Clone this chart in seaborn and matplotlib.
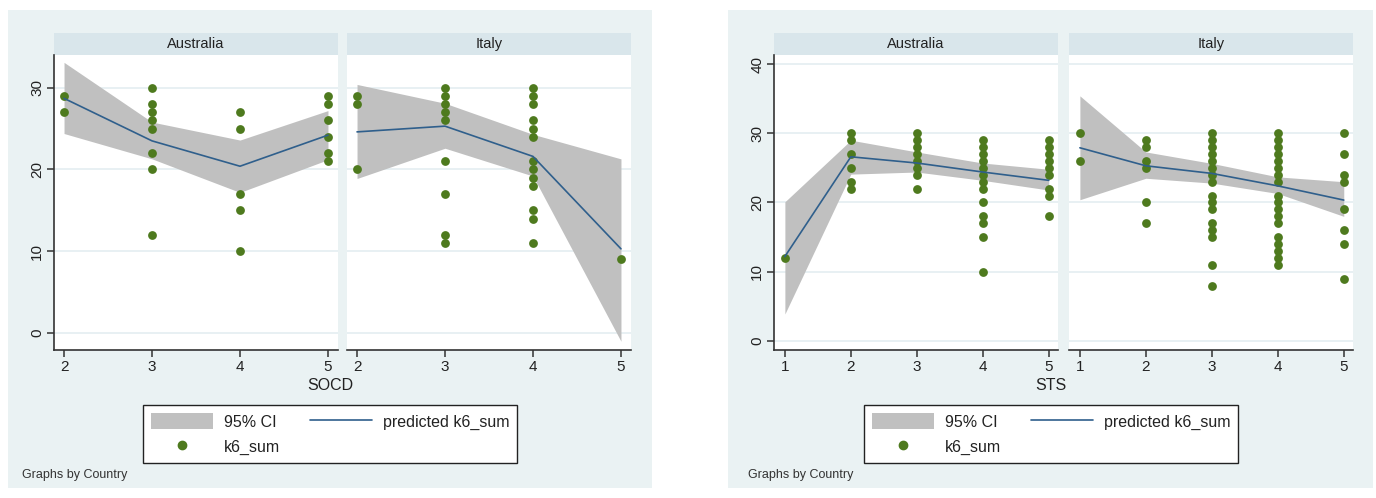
import matplotlib
matplotlib.use('Agg')
import matplotlib.pyplot as plt
import numpy as np
import pandas as pd
import seaborn as sns
from matplotlib.lines import Line2D
from matplotlib.patches import Patch, Rectangle

# SOCD (left graph)
socd_levels = [2, 3, 4, 5]
socd_aus_k6 = [[29, 27], [30, 28, 27, 26, 25, 22, 20, 12], [27, 25, 17, 15, 10],
               [29, 28, 26, 24, 22, 21]]
socd_aus_pred = [28.7, 23.5, 20.4, 24.2]
socd_aus_lo = [24.4, 21.3, 17.2, 21.2]
socd_aus_hi = [33.1, 25.8, 23.6, 27.2]
socd_ita_k6 = [[29, 28, 20], [30, 29, 28, 27, 26, 21, 17, 12, 11],
               [30, 29, 28, 26, 25, 24, 21, 20, 19, 18, 15, 14, 11], [9]]
socd_ita_pred = [24.6, 25.3, 21.6, 10.3]
socd_ita_lo = [18.9, 22.6, 19.2, -1.0]
socd_ita_hi = [30.4, 28.1, 24.3, 21.3]

# STS (right graph)
sts_levels = [1, 2, 3, 4, 5]
sts_aus_k6 = [[12], [30, 29, 27, 25, 23, 22], [30, 29, 28, 27, 26, 25, 24, 22],
              [29, 28, 27, 26, 25, 24, 23, 22, 20, 18, 17, 15, 10],
              [29, 28, 27, 26, 25, 24, 22, 21, 18]]
sts_aus_pred = [12.2, 26.6, 25.7, 24.4, 23.2]
sts_aus_lo = [3.9, 24.1, 24.4, 23.2, 21.8]
sts_aus_hi = [20.1, 29.0, 27.3, 25.7, 24.8]
sts_ita_k6 = [[30, 26], [29, 28, 26, 25, 20, 17],
              [30, 29, 28, 27, 26, 25, 24, 23, 21, 20, 19, 17, 16, 15, 11, 8],
              [30, 29, 28, 27, 26, 25, 24, 23, 21, 20, 19, 18, 17, 15, 14, 13, 12, 11],
              [30, 27, 24, 23, 19, 16, 14, 9]]
sts_ita_pred = [27.9, 25.3, 24.2, 22.4, 20.35]
sts_ita_lo = [20.4, 23.5, 22.8, 21.3, 18.0]
sts_ita_hi = [35.4, 27.3, 25.65, 23.7, 23.0]

countries = ['Australia', 'Italy']
legend_labels = ['95% CI', 'predicted k6_sum', 'k6_sum']

# Colours (Stata s2color look)
BG = '#EAF2F3'
STRIP = '#D9E6EB'
GRID = '#E4EEF1'
CI_GRAY = '#C0C0C0'
LINE_BLUE = '#2F5F8C'
DOT_GREEN = '#4E7A1E'
INK = '#222222'

W, H = 1376, 498

sns.set_theme(style='white')
plt.rcParams['font.family'] = ['Liberation Sans', 'DejaVu Sans']

fig = plt.figure(figsize=(W / 100, H / 100), dpi=100, facecolor='white')


def px_axes(x0, x1, y0, y1):
    # axes from pixel box (top-left origin)
    return fig.add_axes([x0 / W, 1 - y1 / H, (x1 - x0) / W, (y1 - y0) / H])


def draw_panel(ax, levels, k6, pred, lo, hi, title, xlim, ylim, yticks, show_y):
    pts = pd.DataFrame([(x, v) for x, vals in zip(levels, k6) for v in vals],
                       columns=['x', 'k6_sum'])
    fit = pd.DataFrame({'x': levels, 'pred': pred, 'lo': lo, 'hi': hi})

    ax.set_facecolor('white')
    ax.fill_between(fit['x'], fit['lo'], fit['hi'], color=CI_GRAY, lw=0, zorder=2)
    sns.scatterplot(data=pts, x='x', y='k6_sum', ax=ax, color=DOT_GREEN, s=40,
                    linewidth=0, zorder=3, legend=False)
    sns.lineplot(data=fit, x='x', y='pred', ax=ax, color=LINE_BLUE, lw=1.2,
                 zorder=4, legend=False)

    ax.set_xlim(*xlim)
    ax.set_ylim(*ylim)
    ax.set_xticks(levels)
    ax.set_yticks(yticks)
    ax.yaxis.grid(True, color=GRID, lw=1.2)
    ax.set_axisbelow(True)
    ax.set_xlabel('')
    ax.set_ylabel('')

    for s in ['top', 'right']:
        ax.spines[s].set_visible(False)
    ax.spines['bottom'].set_color('#333333')
    ax.spines['bottom'].set_linewidth(1.2)
    ax.tick_params(axis='x', bottom=True, length=5, width=1.1, color='#333333',
                   labelsize=11, pad=2, labelcolor=INK)
    if show_y:
        ax.spines['left'].set_color('#333333')
        ax.spines['left'].set_linewidth(1.2)
        ax.tick_params(axis='y', left=True, length=5, width=1.1, color='#333333',
                       labelsize=11, pad=2, labelrotation=90, labelcolor=INK)
        for t in ax.get_yticklabels():
            t.set_va('center')
    else:
        ax.spines['left'].set_visible(False)
        ax.tick_params(axis='y', left=False, labelleft=False)

    # facet strip
    strip_h = 22 / (ax.get_position().height * H)
    ax.add_patch(Rectangle((0, 1), 1, strip_h, transform=ax.transAxes,
                           facecolor=STRIP, edgecolor='none', clip_on=False))
    ax.text(0.5, 1 + strip_h / 2, title, transform=ax.transAxes, ha='center',
            va='center', fontsize=10.5, color=INK)


# graph backgrounds
for x0, x1 in [(8, 652), (728, 1373)]:
    fig.patches.append(Rectangle((x0 / W, 1 - 488 / H), (x1 - x0) / W, 478 / H,
                                 transform=fig.transFigure, facecolor=BG,
                                 edgecolor='none', zorder=-5))

graphs = [
    dict(name='SOCD', levels=socd_levels, xlim=(1.886, 5.114), ylim=(-2.07, 34),
         yticks=[0, 10, 20, 30], boxes=[(54, 338), (347, 631)],
         data=[(socd_aus_k6, socd_aus_pred, socd_aus_lo, socd_aus_hi),
               (socd_ita_k6, socd_ita_pred, socd_ita_lo, socd_ita_hi)],
         label_x=330, legend_x=330, note_x=22),
    dict(name='STS', levels=sts_levels, xlim=(0.835, 5.14), ylim=(-1.3, 41.3),
         yticks=[0, 10, 20, 30, 40], boxes=[(774, 1058), (1069, 1353)],
         data=[(sts_aus_k6, sts_aus_pred, sts_aus_lo, sts_aus_hi),
               (sts_ita_k6, sts_ita_pred, sts_ita_lo, sts_ita_hi)],
         label_x=1051, legend_x=1051, note_x=748),
]

for g in graphs:
    for i, ((x0, x1), (k6, pred, lo, hi)) in enumerate(zip(g['boxes'], g['data'])):
        ax = px_axes(x0, x1, 55, 350)
        draw_panel(ax, g['levels'], k6, pred, lo, hi, countries[i], g['xlim'],
                   g['ylim'], g['yticks'], show_y=(i == 0))

    fig.text(g['label_x'] / W, 1 - 386 / H, g['name'], ha='center', va='center',
             fontsize=11.5, color=INK)

    handles = [Patch(facecolor=CI_GRAY, edgecolor='none'),
               Line2D([], [], ls='none', marker='o', color=DOT_GREEN, markersize=6),
               Line2D([], [], color=LINE_BLUE, lw=1.2)]
    labels = [legend_labels[0], legend_labels[2], legend_labels[1]]
    leg = fig.legend(handles, labels, ncol=2, loc='center',
                     bbox_to_anchor=(g['legend_x'] / W, 1 - 434 / H),
                     fontsize=11.5, frameon=True, fancybox=False, framealpha=1,
                     edgecolor=INK, handlelength=3.9, handleheight=1.1,
                     columnspacing=1.9, labelspacing=0.55, borderpad=0.5,
                     handletextpad=0.65)
    leg.get_frame().set_linewidth(1.0)
    for t in leg.get_texts():
        t.set_color(INK)

    fig.text(g['note_x'] / W, 1 - 475 / H, 'Graphs by Country', ha='left',
             va='center', fontsize=9, color='#333333')

fig.savefig('out.png', dpi=100, facecolor='white')
